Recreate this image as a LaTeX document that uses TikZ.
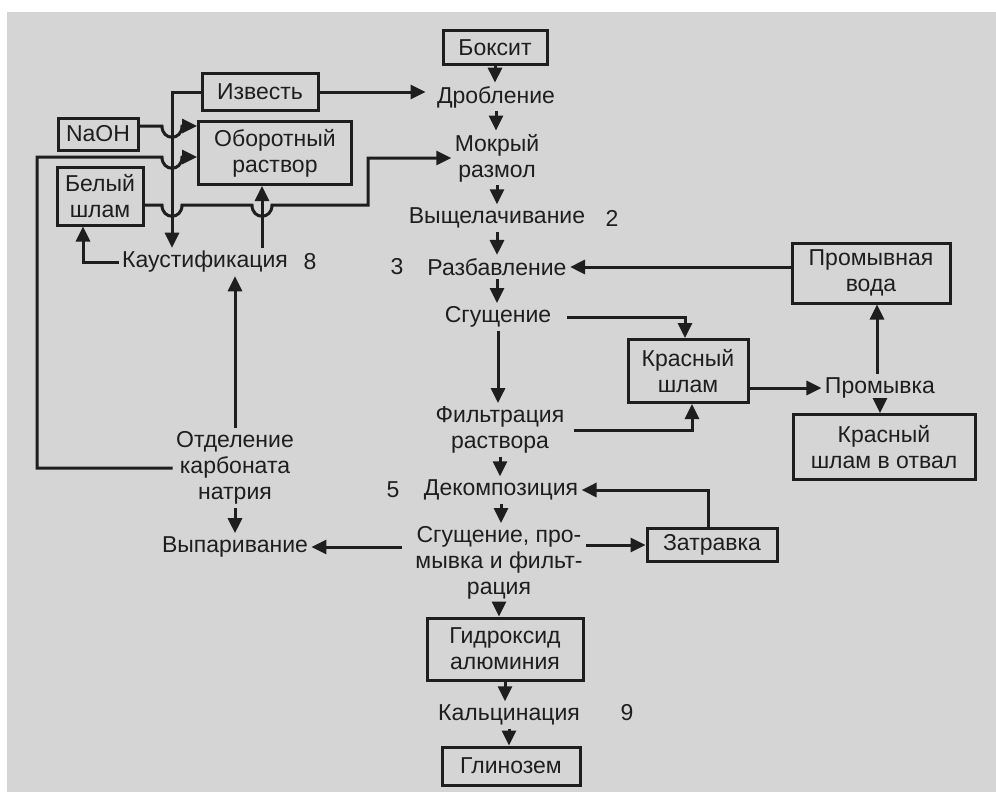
\documentclass[tikz,border=0pt]{standalone}
\usepackage{fontspec}
\setmainfont{Liberation Sans}
\usetikzlibrary{arrows.meta}
\definecolor{paper}{RGB}{213,213,213}
\definecolor{ink}{RGB}{30,30,30}
% small dip where a line passes a vertical one
\newcommand{\dip}[2]{-- (#1-10,#2) .. controls (#1-10,#2+15) and (#1+10,#2+15) .. (#1+10,#2)}

\begin{document}
\begin{tikzpicture}[x=1pt,y=-1pt,
    every node/.style={text=ink,font=\fontsize{23}{26}\selectfont,align=center},
    box/.style={draw=ink,line width=3pt,inner sep=0pt},
    flow/.style={draw=ink,line width=3pt,-{Triangle[length=15pt,width=14pt]}}]
        \useasboundingbox (0,0) rectangle (996,792);
        \fill[white] (0,0) rectangle (996,792);
        \fill[paper] (7,12) rectangle (996,792);
        % boxes
        \node[box,minimum width=104pt,minimum height=34pt] (boksit) at (495,48) {Боксит};
        \node[box,minimum width=116pt,minimum height=37pt] (izvest) at (260,92) {Известь};
        \node[box,minimum width=80pt,minimum height=32pt] (naoh) at (98,134) {NaOH};
        \node[box,minimum width=153pt,minimum height=63pt] (oborot) at (275,153) {Оборотный\\раствор};
        \node[box,minimum width=86pt,minimum height=58pt] (belyi) at (100,196) {Белый\\шлам};
        \node[box,minimum width=158pt,minimum height=60pt] (promvoda) at (871,273) {Промывная\\вода};
        \node[box,minimum width=120pt,minimum height=63pt] (krasn) at (688,371) {Красный\\шлам};
        \node[box,minimum width=182pt,minimum height=65pt] (otval) at (884,447) {Красный\\шлам в отвал};
        \node[box,minimum width=130pt,minimum height=33pt] (zatravka) at (712,545) {Затравка};
        \node[box,minimum width=156pt,minimum height=62pt] (gidr) at (505,649) {Гидроксид\\алюминия};
        \node[box,minimum width=138pt,minimum height=38pt] (glinozem) at (511,766) {Глинозем};
        % stages
        \node (drob) at (496,97) {Дробление};
        \node (mokr) at (497,158) {Мокрый\\размол};
        \node (vysh) at (497,218) {Выщелачивание};
        \node (razb) at (497,267) {Разбавление};
        \node (sgush) at (498,317) {Сгущение};
        \node (filtr) at (500,430) {Фильтрация\\раствора};
        \node (dekomp) at (501,490) {Декомпозиция};
        \node (sgprom) at (499,563) {Сгущение, про-\\мывка и фильт-\\рация};
        \node (kalc) at (509,715) {Кальцинация};
        \node (promyv) at (880,388) {Промывка};
        \node (kaust) at (205,262) {Каустификация};
        \node (otdel) at (235,468) {Отделение\\карбоната\\натрия};
        \node (vypar) at (235,547) {Выпаривание};
        % numbers
        \node (n2) at (612,218) {2};
        \node (n3) at (397,267) {3};
        \node (n5) at (393,490) {5};
        \node (n8) at (310,262) {8};
        \node (n9) at (627,713) {9};
        % main line
        \draw[flow] (boksit.south) -- (boksit.south |- drob.north);
        \draw[flow] (drob.south) -- (drob.south |- mokr.north);
        \draw[flow] (mokr.south) -- (mokr.south |- vysh.north);
        \draw[flow] (vysh.south) -- (vysh.south |- razb.north);
        \draw[flow] (razb.south) -- (razb.south |- sgush.north);
        \draw[flow] (sgush.south) -- (sgush.south |- filtr.north);
        \draw[flow] (filtr.south) -- (filtr.south |- dekomp.north);
        \draw[flow] (dekomp.south) -- (dekomp.south |- sgprom.north);
        \draw[flow] (sgprom.south) -- (sgprom.south |- gidr.north);
        \draw[flow] (gidr.south) -- (gidr.south |- kalc.north);
        \draw[flow] (kalc.south) -- (kalc.south |- glinozem.north);
        % red mud and wash water
        \draw[flow] ([xshift=12pt]sgush.east) -| ([xshift=-3pt]krasn.north);
        \draw[flow] ([xshift=6pt]filtr.east) -| ([xshift=4pt]krasn.south);
        \draw[flow] (krasn.east |- promyv.west) -- (promyv.west);
        \draw[flow] ([xshift=-3pt]promyv.north) -- ([xshift=-3pt]promyv.north |- promvoda.south);
        \draw[flow] (promyv.south) -- (promyv.south |- otval.north);
        \draw[flow] (promvoda.west |- razb.east) -- (razb.east);
        % seed and evaporation
        \draw[flow] (zatravka.west -| sgprom.east) -- (zatravka.west);
        \draw[flow] ([xshift=-4pt]zatravka.north) |- (dekomp.east);
        \draw[flow] ([xshift=-10pt]sgprom.west |- vypar.east) -- (vypar.east);
        \draw[flow] (otdel.south) -- (otdel.south |- vypar.north);
        \draw[flow] (otdel.north) -- (otdel.north |- kaust.south);
        % causticizing loop
        \draw[flow] (izvest.east) -- ([xshift=-8pt]izvest.east -| drob.west);
        \draw[flow] (izvest.west) -| ([xshift=-33pt]kaust.north);
        \draw[flow] (262,0 |- kaust.north) -- (262,0 |- oborot.south);
        \draw[flow] (kaust.west) -| ([xshift=-17pt]belyi.south);
        \draw[flow] ([yshift=8pt]naoh.east) \dip{172}{126} -- (oborot.west |- 0,126);
        \draw[flow] (otdel.west) -| (37,157) \dip{172}{157} -- (oborot.west |- 0,157);
        \draw[flow] ([yshift=-9pt]belyi.east) \dip{172}{205} \dip{262}{205} -- (368,205) |- (mokr.west);
\end{tikzpicture}
\end{document}
